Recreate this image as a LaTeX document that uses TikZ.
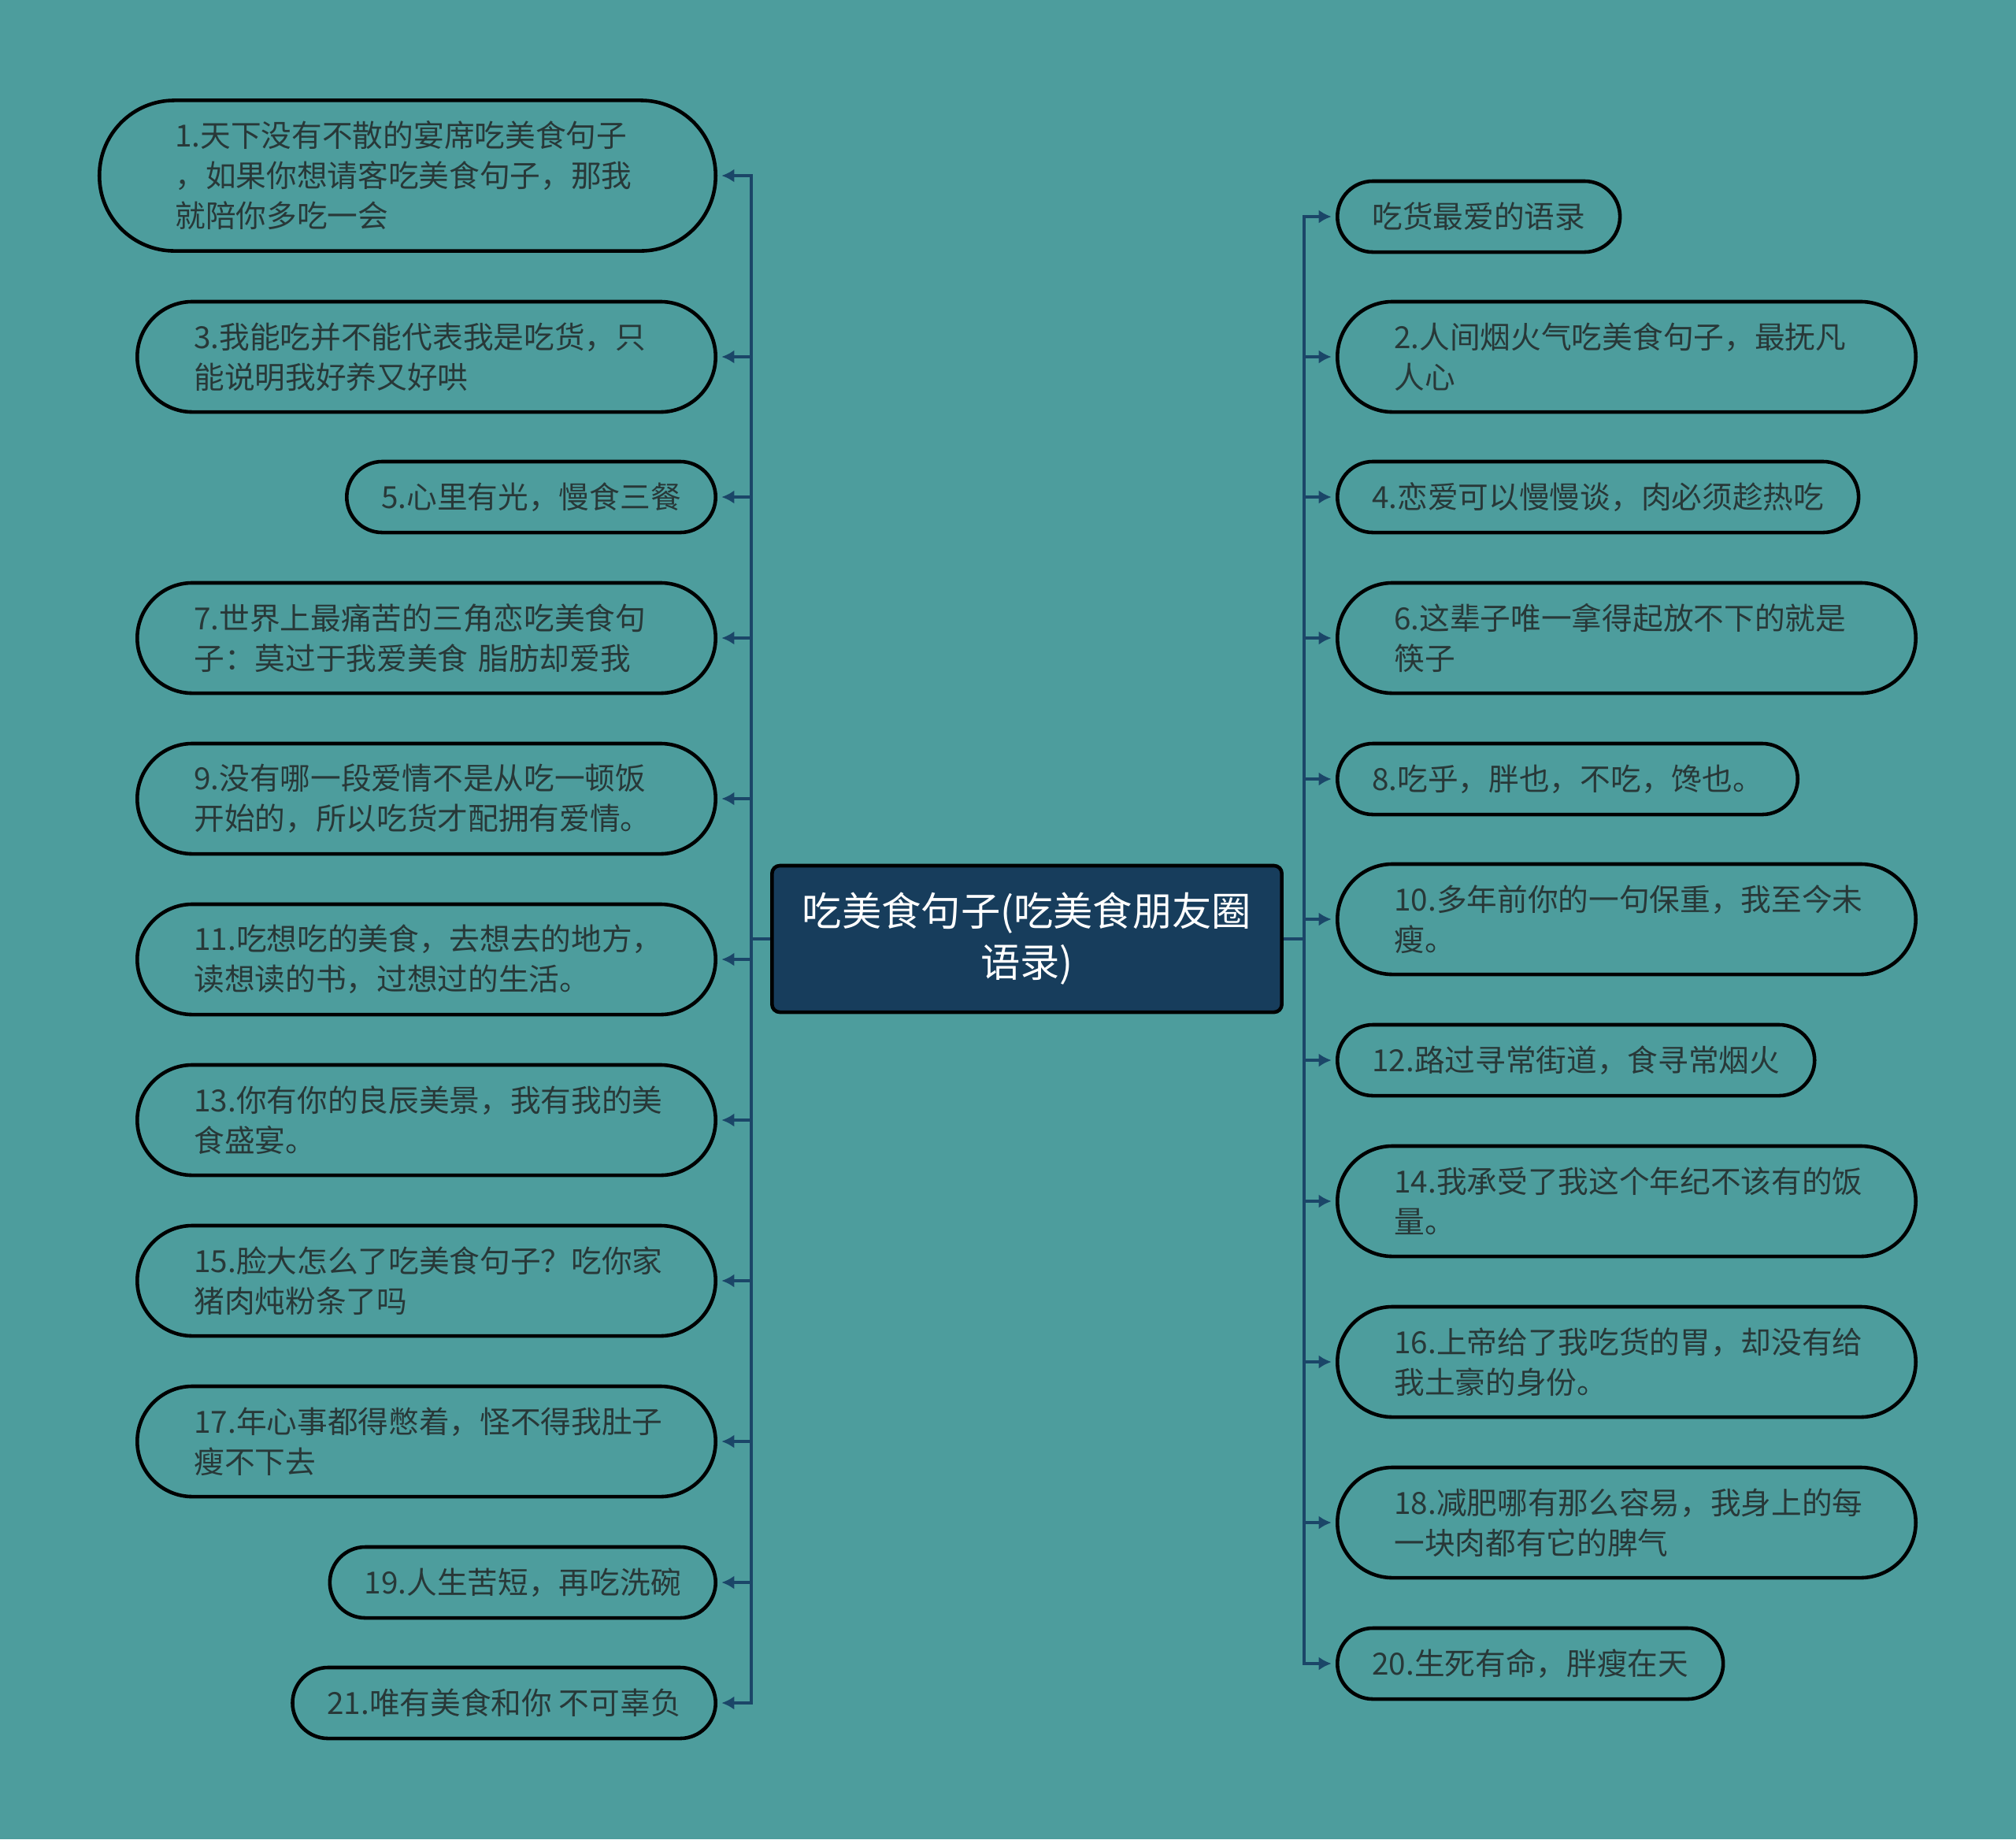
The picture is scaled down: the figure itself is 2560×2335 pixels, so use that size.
\documentclass[tikz,border=0pt]{standalone}
\usepackage{fontspec}
\setmainfont{Noto Sans CJK SC}
\usepackage{tikz}
\usetikzlibrary{arrows.meta}

\definecolor{bgteal}{HTML}{4D9D9D}
\definecolor{topicblue}{HTML}{173D5C}
\definecolor{linkblue}{HTML}{1B4668}
\definecolor{leaftext}{HTML}{283838}

\begin{document}
\begin{tikzpicture}[%
		x=0.01cm, y=-0.01cm,
		topic/.style={%
			draw=black,
			line width=1.3pt,
			fill=topicblue,
			rounded corners=0.1cm,
			text=white,
			align=center,
			minimum width=6.47cm,
			minimum height=1.86cm,
			font=\fontsize{14.3}{18.5}\selectfont},%
		leaf/.style={%
			draw=black,
			line width=1.3pt,
			fill=bgteal,
			rounded corners=0.45cm,
			text=leaftext,
			inner xsep=0.44cm,
			inner ysep=0.12cm,
			minimum height=0.9cm,
			font=\fontsize{11}{14.5}\selectfont},%
		wide/.style={%
			text width=5.9cm,
			align=left,
			inner xsep=0.72cm,
			rounded corners=0.7cm,
			minimum height=1.4cm},%
		link/.style={%
			draw=linkblue,
			line width=0.9pt,
			rounded corners=0pt,
			shorten >=1.5pt,
			-{Latex[length=0.16cm,width=0.17cm]}}
		]

		% background
		\fill[bgteal] (0,0) rectangle (2560,2335);

		% centre topic
		\node[topic] (topic) at (1304,1192) {吃美食句子(吃美食朋友圈\\语录)};

		% left branch
		\node[leaf, wide, anchor=east, text width=5.9cm, inner xsep=0.96cm, rounded corners=0.95cm, minimum height=1.91cm] (l1) at (911,223) {1.天下没有不散的宴席吃美食句子\\，如果你想请客吃美食句子，那我\\就陪你多吃一会};
		\node[leaf, wide, anchor=east] (l3) at (911,453) {3.我能吃并不能代表我是吃货，只\\能说明我好养又好哄};
		\node[leaf, anchor=east] (l5) at (911,631) {5.心里有光，慢食三餐};
		\node[leaf, wide, anchor=east] (l7) at (911,810) {7.世界上最痛苦的三角恋吃美食句\\子：莫过于我爱美食 脂肪却爱我};
		\node[leaf, wide, anchor=east] (l9) at (911,1014) {9.没有哪一段爱情不是从吃一顿饭\\开始的，所以吃货才配拥有爱情。};
		\node[leaf, wide, anchor=east] (l11) at (911,1218) {11.吃想吃的美食，去想去的地方，\\读想读的书，过想过的生活。};
		\node[leaf, wide, anchor=east] (l13) at (911,1422) {13.你有你的良辰美景，我有我的美\\食盛宴。};
		\node[leaf, wide, anchor=east] (l15) at (911,1626) {15.脸大怎么了吃美食句子？吃你家\\猪肉炖粉条了吗};
		\node[leaf, wide, anchor=east] (l17) at (911,1830) {17.年心事都得憋着，怪不得我肚子\\瘦不下去};
		\node[leaf, anchor=east] (l19) at (911,2009) {19.人生苦短，再吃洗碗};
		\node[leaf, anchor=east] (l21) at (911,2162) {21.唯有美食和你 不可辜负};

		% right branch
		\node[leaf, anchor=west] (r0) at (1696,275) {吃货最爱的语录};
		\node[leaf, wide, anchor=west] (r2) at (1696,453) {2.人间烟火气吃美食句子，最抚凡\\人心};
		\node[leaf, anchor=west] (r4) at (1696,631) {4.恋爱可以慢慢谈，肉必须趁热吃};
		\node[leaf, wide, anchor=west] (r6) at (1696,810) {6.这辈子唯一拿得起放不下的就是\\筷子};
		\node[leaf, anchor=west] (r8) at (1696,989) {8.吃乎，胖也，不吃，馋也。};
		\node[leaf, wide, anchor=west] (r10) at (1696,1167) {10.多年前你的一句保重，我至今未\\瘦。};
		\node[leaf, anchor=west] (r12) at (1696,1346) {12.路过寻常街道，食寻常烟火};
		\node[leaf, wide, anchor=west] (r14) at (1696,1525) {14.我承受了我这个年纪不该有的饭\\量。};
		\node[leaf, wide, anchor=west] (r16) at (1696,1729) {16.上帝给了我吃货的胃，却没有给\\我土豪的身份。};
		\node[leaf, wide, anchor=west] (r18) at (1696,1933) {18.减肥哪有那么容易，我身上的每\\一块肉都有它的脾气};
		\node[leaf, anchor=west] (r20) at (1696,2112) {20.生死有命，胖瘦在天};

		% left links
		\draw[link] (topic.west) -- ++(-24,0) |- (l1.east);
		\draw[link] (topic.west) -- ++(-24,0) |- (l3.east);
		\draw[link] (topic.west) -- ++(-24,0) |- (l5.east);
		\draw[link] (topic.west) -- ++(-24,0) |- (l7.east);
		\draw[link] (topic.west) -- ++(-24,0) |- (l9.east);
		\draw[link] (topic.west) -- ++(-24,0) |- (l11.east);
		\draw[link] (topic.west) -- ++(-24,0) |- (l13.east);
		\draw[link] (topic.west) -- ++(-24,0) |- (l15.east);
		\draw[link] (topic.west) -- ++(-24,0) |- (l17.east);
		\draw[link] (topic.west) -- ++(-24,0) |- (l19.east);
		\draw[link] (topic.west) -- ++(-24,0) |- (l21.east);
		% right links
		\draw[link] (topic.east) -- ++(26,0) |- (r0.west);
		\draw[link] (topic.east) -- ++(26,0) |- (r2.west);
		\draw[link] (topic.east) -- ++(26,0) |- (r4.west);
		\draw[link] (topic.east) -- ++(26,0) |- (r6.west);
		\draw[link] (topic.east) -- ++(26,0) |- (r8.west);
		\draw[link] (topic.east) -- ++(26,0) |- (r10.west);
		\draw[link] (topic.east) -- ++(26,0) |- (r12.west);
		\draw[link] (topic.east) -- ++(26,0) |- (r14.west);
		\draw[link] (topic.east) -- ++(26,0) |- (r16.west);
		\draw[link] (topic.east) -- ++(26,0) |- (r18.west);
		\draw[link] (topic.east) -- ++(26,0) |- (r20.west);
	\end{tikzpicture}
\end{document}
